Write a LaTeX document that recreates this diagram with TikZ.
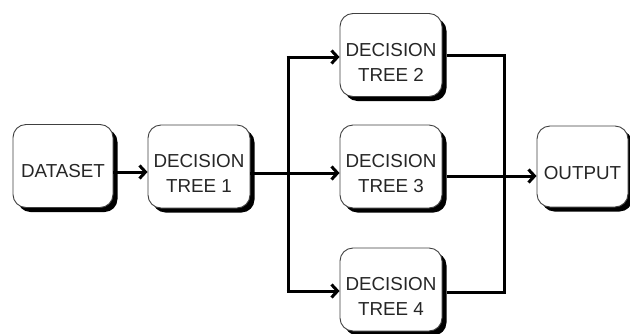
\documentclass[tikz,border=0pt]{standalone}
\usepackage{fontspec}
\setmainfont{Liberation Sans}
\usetikzlibrary{arrows.meta,shadows}
\definecolor{txtc}{HTML}{262626}
\definecolor{edgec}{HTML}{404040}
\tikzset{
  box/.style={draw=edgec, line width=0.9pt, fill=white, rounded corners=13pt,
    inner sep=0pt, minimum width=#1, minimum height=83pt,
    drop shadow={shadow xshift=4.5pt, shadow yshift=-4.5pt, fill=black, opacity=1}},
  box/.default=102pt,
  txt/.style={font=\fontsize{18.8}{25}\selectfont, text=txtc, align=center, inner sep=0pt},
  conn/.style={line width=3pt, black},
  arr/.style={conn, -{Straight Barb[length=6pt,width=13pt,line width=3pt]}}
}
\begin{document}
\begin{tikzpicture}[x=1pt,y=-1pt]
\useasboundingbox (0,0) rectangle (630,333);
% boxes
\node[box=100pt] (ds) at (63,166) {};
\node[box] (dt1) at (199,166.5) {};
\node[box] (dt2) at (391,55) {};
\node[box] (dt3) at (391,166.5) {};
\node[box] (dt4) at (391,289.5) {};
\node[box=91pt, minimum height=81pt] (out) at (582.5,166.5) {};
% texts
\node[txt] (tds) at ([yshift=-5.5pt]ds.center) {DATASET};
\node[txt] (tdt1) at ([yshift=-7pt]dt1.center) {DECISION\\TREE 1};
\node[txt] (tdt2) at ([yshift=-7pt]dt2.center) {DECISION\\TREE 2};
\node[txt] (tdt3) at ([yshift=-7pt]dt3.center) {DECISION\\TREE 3};
\node[txt] (tdt4) at ([yshift=-7pt]dt4.center) {DECISION\\TREE 4};
\node[txt] (tout) at ([yshift=-7pt]out.center) {OUTPUT};
% junctions
\coordinate (ja) at (288,173);
\coordinate (jtop) at (288,57);
\coordinate (jbot) at (288,291);
\coordinate (kc) at (503,176);
\coordinate (ktop) at (503,55);
\coordinate (kbot) at (503,292);
% connectors
\draw[arr] (ds.east |- 0,172) -- (dt1.west |- 0,172);
\draw[arr] (dt1.east |- ja) -- (dt3.west |- ja);
\draw[conn] (ja) -- (jtop);
\draw[conn] (ja) -- (jbot);
\draw[arr] ([xshift=-1.5pt]jtop) -- (dt2.west |- jtop);
\draw[arr] ([xshift=-1.5pt]jbot) -- (dt4.west |- jbot);
\draw[conn] ([xshift=4.5pt]dt2.east |- ktop) -- ([xshift=1.5pt]ktop) -- ([xshift=1.5pt]kbot) -- ([xshift=4.5pt]dt4.east |- kbot);
\draw[arr] ([xshift=4.5pt]dt3.east |- kc) -- (out.west |- kc);
\end{tikzpicture}
\end{document}
